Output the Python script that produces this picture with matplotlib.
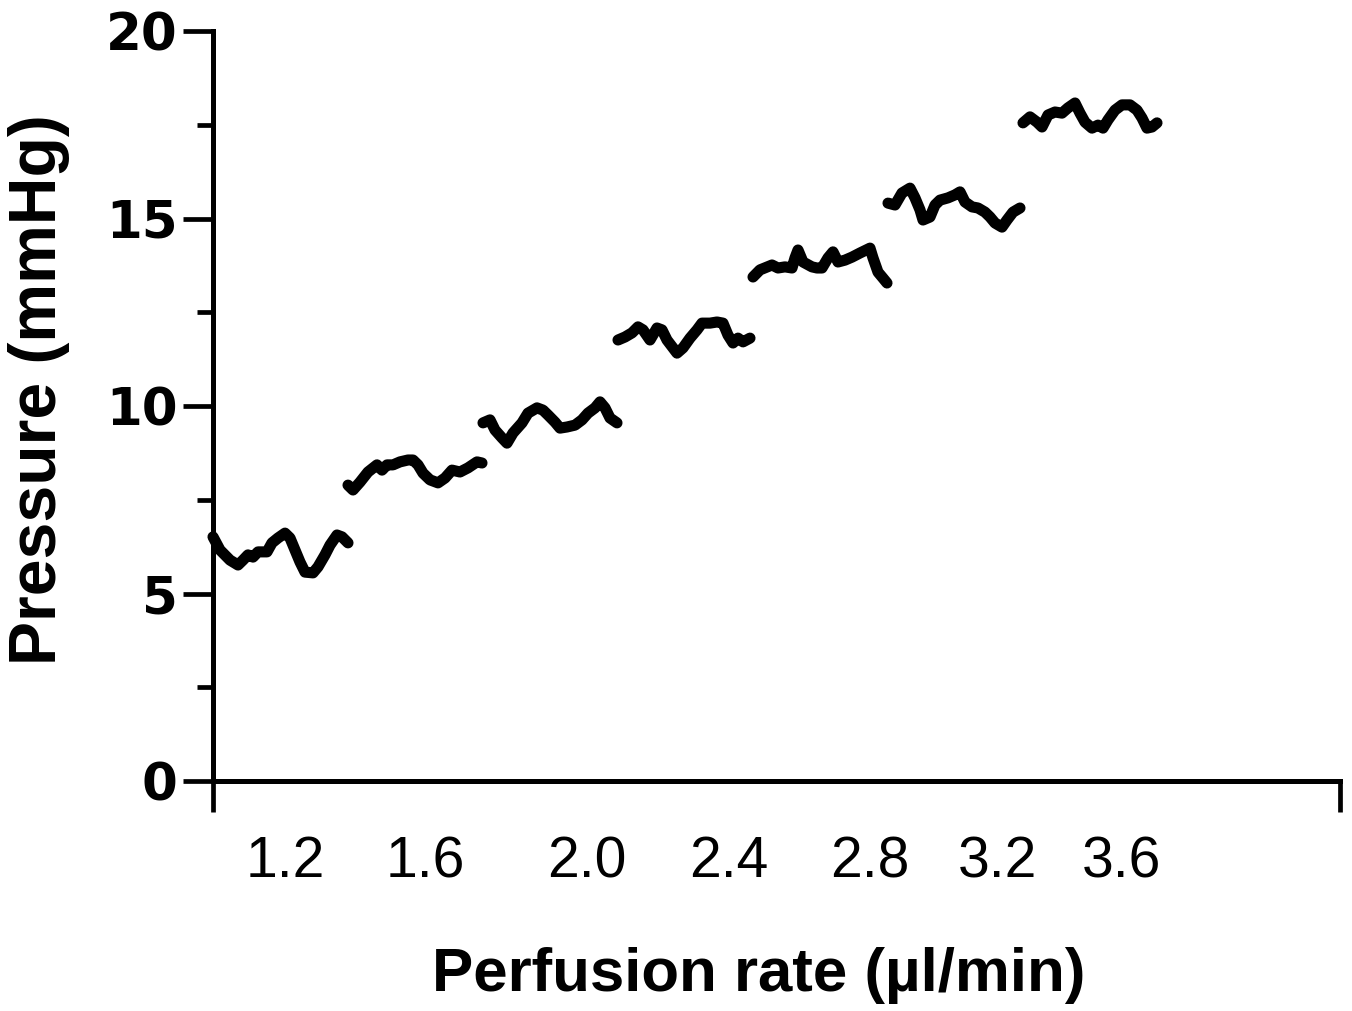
import matplotlib
matplotlib.use("Agg")
import matplotlib.pyplot as plt
from matplotlib.ticker import FixedLocator, MultipleLocator

# Recorded pressure traces (time index in arbitrary units, pressure in mmHg), one per perfusion rate
seg1_t = [0, 7, 17, 25, 30, 35, 40, 45, 54, 59, 65, 72, 77, 82, 87, 92, 100, 105, 112, 117, 124, 129, 135]
seg1_p = [6.51, 6.16, 5.89, 5.76, 5.89, 6.03, 5.97, 6.11, 6.11, 6.35, 6.48, 6.61, 6.48, 6.16, 5.84,
          5.57, 5.55, 5.71, 6.03, 6.29, 6.56, 6.51, 6.35]
seg2_t = [135, 140, 147, 155, 164, 169, 174, 180, 187, 195, 200, 205, 210, 217, 225, 232, 239, 247,
          255, 264, 269]
seg2_p = [7.89, 7.76, 7.97, 8.24, 8.43, 8.29, 8.43, 8.43, 8.51, 8.56, 8.56, 8.43, 8.21, 8.03, 7.95,
          8.08, 8.29, 8.24, 8.35, 8.51, 8.48]
seg3_t = [270, 277, 282, 289, 294, 300, 309, 315, 324, 330, 335, 342, 347, 354, 362, 369, 375, 382,
          387, 392, 397, 404]
seg3_p = [9.55, 9.63, 9.36, 9.15, 9.01, 9.28, 9.55, 9.81, 9.95, 9.89, 9.76, 9.57, 9.41, 9.44, 9.49,
          9.63, 9.81, 9.95, 10.11, 9.95, 9.68, 9.55]
seg4_t = [405, 412, 419, 425, 430, 437, 444, 449, 454, 460, 464, 470, 477, 484, 489, 497, 504, 510,
          515, 520, 525, 530, 537]
seg4_p = [11.76, 11.84, 11.95, 12.11, 12.03, 11.76, 12.08, 12.03, 11.76, 11.55, 11.41, 11.55, 11.81,
          12.03, 12.21, 12.21, 12.24, 12.21, 11.89, 11.68, 11.81, 11.71, 11.81]
seg5_t = [540, 547, 559, 565, 572, 579, 582, 585, 590, 599, 604, 609, 615, 620, 625, 632, 639, 647,
          657, 660, 665, 670, 674]
seg5_p = [13.44, 13.63, 13.76, 13.68, 13.71, 13.68, 13.95, 14.16, 13.84, 13.71, 13.68, 13.68, 13.95,
          14.11, 13.84, 13.89, 13.97, 14.08, 14.21, 13.95, 13.57, 13.41, 13.28]
seg6_t = [675, 682, 689, 697, 702, 707, 710, 717, 722, 727, 735, 742, 747, 752, 759, 765, 772, 777,
          782, 789, 794, 800, 807]
seg6_p = [15.41, 15.36, 15.68, 15.81, 15.55, 15.23, 14.96, 15.04, 15.36, 15.49, 15.55, 15.63, 15.71,
          15.44, 15.31, 15.28, 15.17, 15.04, 14.88, 14.77, 14.96, 15.17, 15.28]
seg7_t = [810, 817, 824, 829, 835, 842, 849, 855, 862, 867, 872, 879, 885, 890, 895, 902, 909, 917,
          924, 929, 934, 939, 944]
seg7_p = [17.55, 17.71, 17.57, 17.44, 17.76, 17.84, 17.81, 17.95, 18.08, 17.81, 17.57, 17.41, 17.49,
          17.41, 17.63, 17.89, 18.03, 18.03, 17.89, 17.68, 17.41, 17.44, 17.55]

segments = [(seg1_t, seg1_p), (seg2_t, seg2_p), (seg3_t, seg3_p), (seg4_t, seg4_p),
            (seg5_t, seg5_p), (seg6_t, seg6_p), (seg7_t, seg7_p)]

rate_labels = ["1.2", "1.6", "2.0", "2.4", "2.8", "3.2", "3.6"]
rate_label_pos = [72, 212, 374, 516, 657, 784, 908]
x_range = (0, 1127)
y_major = [0, 5, 10, 15, 20]

fig = plt.figure(figsize=(13.52, 10.11), dpi=100)
ax = fig.add_axes([213 / 1352, 1 - 781 / 1011, 1127 / 1352, 750 / 1011])

for t, p in segments:
    ax.plot(t, p, color="black", lw=8, solid_capstyle="round", solid_joinstyle="round",
            clip_on=False)

ax.set_xlim(*x_range)
ax.set_ylim(0, 20)

for s in ["top", "right"]:
    ax.spines[s].set_visible(False)
for s in ["left", "bottom"]:
    ax.spines[s].set_linewidth(3.6)

ax.yaxis.set_major_locator(FixedLocator(y_major))
ax.yaxis.set_minor_locator(MultipleLocator(2.5))
ax.tick_params(axis="y", which="major", length=21.6, width=3.4, pad=4, direction="out")
ax.tick_params(axis="y", which="minor", length=11.5, width=3.4, direction="out")
ax.set_yticklabels([str(v) for v in y_major], fontfamily="DejaVu Sans", fontweight="heavy",
                   fontsize=37)

ax.xaxis.set_major_locator(FixedLocator(rate_label_pos))
ax.xaxis.set_minor_locator(FixedLocator(list(x_range)))
ax.set_xticklabels(rate_labels, fontfamily="Liberation Sans", fontsize=41)
ax.tick_params(axis="x", which="major", length=0, pad=39)
ax.tick_params(axis="x", which="minor", length=22, width=3.4, direction="out")

fig.text(39 / 1352, 1 - 390 / 1011, "Pressure (mmHg)", rotation=90, ha="center", va="center",
         fontfamily="Liberation Sans", fontweight="bold", fontsize=47.5)
fig.text(759 / 1352, 1 - 976 / 1011, "Perfusion rate (µl/min)", ha="center", va="center",
         fontfamily="Liberation Sans", fontweight="bold", fontsize=44.5)

fig.savefig("out.png", dpi=100, facecolor="white")
